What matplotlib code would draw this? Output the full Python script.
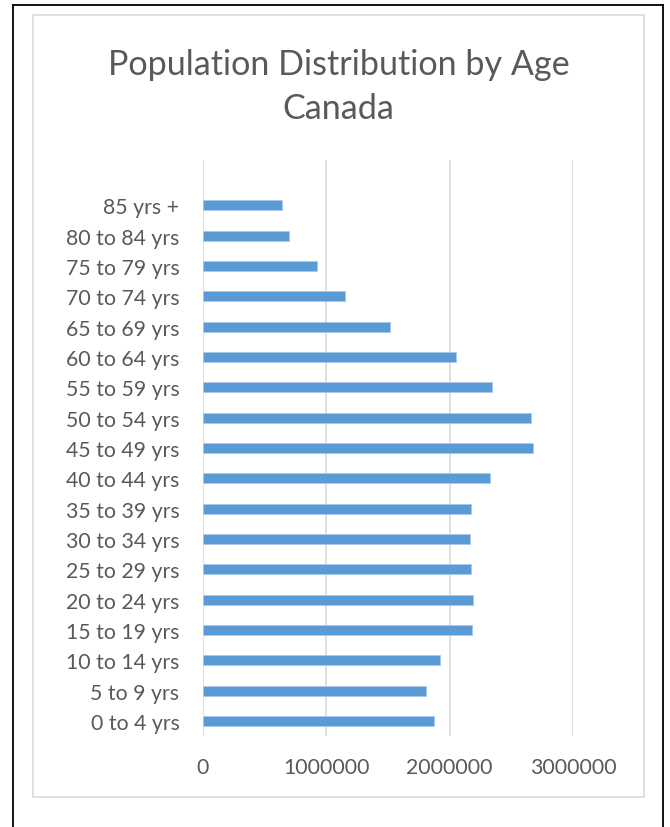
import matplotlib.pyplot as plt
from matplotlib.lines import Line2D
from matplotlib.patches import Rectangle

# =======================
# Data
# =======================
age_groups = ["0 to 4 yrs", "5 to 9 yrs", "10 to 14 yrs", "15 to 19 yrs",
              "20 to 24 yrs", "25 to 29 yrs", "30 to 34 yrs", "35 to 39 yrs",
              "40 to 44 yrs", "45 to 49 yrs", "50 to 54 yrs", "55 to 59 yrs",
              "60 to 64 yrs", "65 to 69 yrs", "70 to 74 yrs", "75 to 79 yrs",
              "80 to 84 yrs", "85 yrs +"]
population = [1877000, 1810000, 1918000, 2178000,
              2189000, 2170000, 2162000, 2175000,
              2324000, 2676000, 2660000, 2340000,
              2051000, 1520000, 1153000, 923000,
              700000, 644000]
x_ticks = [0, 1000000, 2000000, 3000000]
x_tick_labels = ["0", "1000000", "2000000", "3000000"]

TITLE_LINES = ["Population Distribution by Age", "Canada"]

BAR_COLOR = "#5b9bd5"
GRID_COLOR = "#d9d9d9"
TEXT_COLOR = "#595959"

plt.rcParams['font.family'] = ['Lato', 'DejaVu Sans']

fig = plt.figure(figsize=(6.7, 8.28), dpi=100)
W, H = 670.0, 828.0

# pixel -> figure fraction helpers
fx = lambda px: px / W
fy = lambda py: 1 - py / H

# outer black frame (bottom edge falls outside the picture)
for xs, ys in [([13, 13], [6, 840]), ([663, 663], [6, 840]), ([13, 663], [6, 6])]:
    fig.add_artist(Line2D([fx(x) for x in xs], [fy(y) for y in ys],
                          color="black", lw=1.3, transform=fig.transFigure))

# light gray chart border
fig.add_artist(Rectangle((fx(33), fy(798)), fx(644) - fx(33), fy(16) - fy(798),
                         fill=False, edgecolor=GRID_COLOR, lw=1.2,
                         transform=fig.transFigure))

ax = fig.add_axes([fx(203), fy(737), fx(573) - fx(203), fy(161) - fy(737)])

ypos = list(range(len(age_groups)))
ax.barh(ypos, population, height=0.33, color=BAR_COLOR,
        edgecolor="#a8c9ea", linewidth=0.6, zorder=3)

ax.set_xlim(0, 3000000)
ax.set_ylim(-0.5, len(age_groups) + 0.5)
ax.set_xticks(x_ticks)
ax.set_xticklabels(x_tick_labels)
ax.set_yticks(ypos)
ax.set_yticklabels(age_groups)

for x in x_ticks:
    ax.axvline(x, color=GRID_COLOR, lw=1.2, zorder=1)

for s in ax.spines.values():
    s.set_visible(False)
ax.tick_params(axis="both", length=0, labelsize=15.3, labelcolor=TEXT_COLOR)
ax.tick_params(axis="x", pad=15)
ax.tick_params(axis="y", pad=17)

# title, two centred lines
for line, base in zip(TITLE_LINES, [75, 119]):
    fig.text(fx(338.5), fy(base), line, ha="center", va="baseline",
             fontsize=24.6, color=TEXT_COLOR)

fig.savefig("out.png", dpi=100)
